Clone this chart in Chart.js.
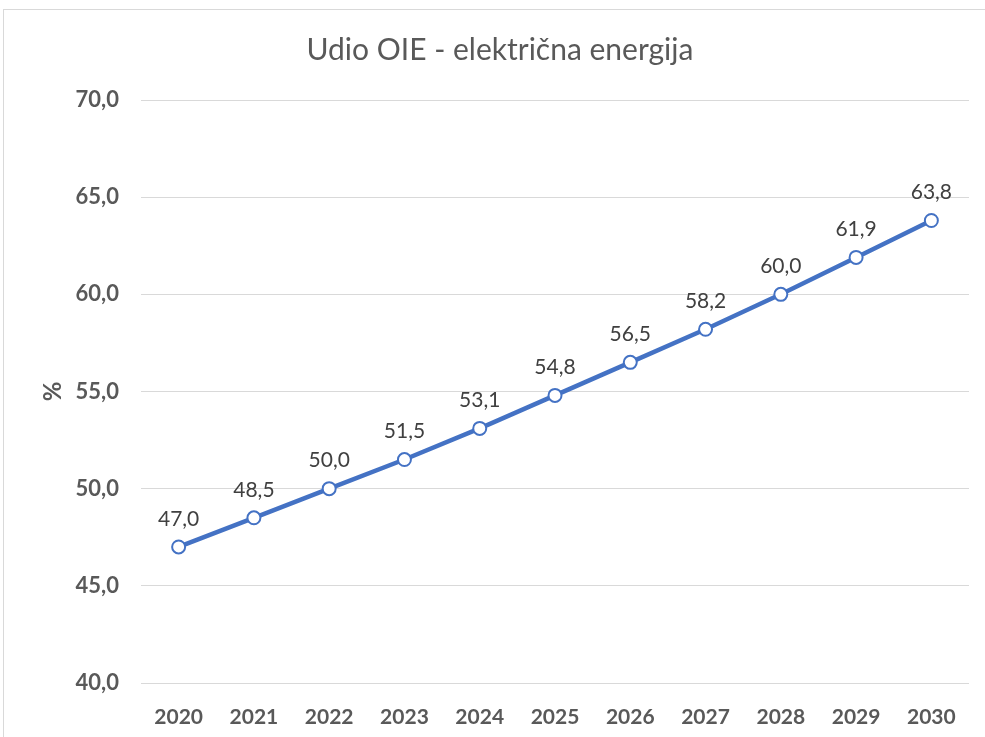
<!DOCTYPE html>
<html>
<head>
<meta charset="utf-8">
<script src="https://cdn.jsdelivr.net/npm/chart.js@4/dist/chart.umd.min.js"></script>
<style>
  html, body { margin: 0; padding: 0; background: #fff; overflow: hidden; }
  #box {
    position: absolute; left: 3px; top: 9px;
    width: 992px; height: 740px;
    border: 1px solid #d9d9d9;
  }
  canvas { display: block; }
</style>
</head>
<body>
<div id="box"><canvas id="oieChart" width="992" height="740"></canvas></div>
<script>
const years = ['2020', '2021', '2022', '2023', '2024', '2025', '2026', '2027', '2028', '2029', '2030'];
const shares = [47.0, 48.5, 50.0, 51.5, 53.1, 54.8, 56.5, 58.2, 60.0, 61.9, 63.8];
const yTicks = [40, 45, 50, 55, 60, 65, 70];

const fmt = v => v.toFixed(1).replace('.', ',');

// labels above each point
const valueLabels = {
    id: 'valueLabels',
    afterDatasetsDraw(chart) {
        const ctx = chart.ctx;
        const meta = chart.getDatasetMeta(0);
        ctx.save();
        ctx.font = '21px Lato';
        ctx.fillStyle = '#404040';
        ctx.textAlign = 'center';
        ctx.textBaseline = 'middle';
        meta.data.forEach((pt, i) => {
            ctx.fillText(fmt(shares[i]), pt.x, pt.y - 28);
        });
        ctx.restore();
    }
};

const ctx = document.getElementById('oieChart').getContext('2d');
new Chart(ctx, {
    type: 'line',
    data: {
        labels: years,
        datasets: [{
            label: 'Udio OIE',
            data: shares,
            borderColor: '#4472C4',
            borderWidth: 4.5,
            pointRadius: 6.5,
            pointHoverRadius: 6.5,
            pointBackgroundColor: '#ffffff',
            pointBorderColor: '#4472C4',
            pointBorderWidth: 2,
            tension: 0
        }]
    },
    options: {
        responsive: false,
        animation: false,
        layout: { padding: { left: 27, right: 27, top: 0, bottom: 0 } },
        plugins: {
            legend: { display: false },
            tooltip: { enabled: false },
            title: {
                display: true,
                text: 'Udio OIE - električna energija',
                color: '#595959',
                font: { family: 'Lato', size: 30, weight: 'normal' },
                padding: { top: 22, bottom: 32 }
            }
        },
        scales: {
            x: {
                offset: true,
                grid: { display: false, drawTicks: false },
                border: { display: false },
                ticks: {
                    color: '#595959',
                    padding: 22,
                    font: { family: 'Lato', size: 21, weight: 'bold' }
                },
                afterFit(scale) { scale.height = 67; }
            },
            y: {
                min: 40,
                max: 70,
                afterBuildTicks(scale) { scale.ticks = yTicks.map(v => ({ value: v })); },
                grid: { color: '#d9d9d9', lineWidth: 1, drawTicks: false },
                border: { display: false },
                ticks: {
                    color: '#595959',
                    padding: 22,
                    font: { family: 'Lato', size: 22, weight: 'bold' },
                    callback: v => fmt(v)
                },
                title: {
                    display: true,
                    text: '%',
                    color: '#595959',
                    font: { family: 'Lato', size: 24, weight: 'bold' },
                    padding: { top: 8, bottom: 0 }
                },
                afterFit(scale) { scale.width = 110; }
            }
        }
    },
    plugins: [valueLabels]
});
</script>
</body>
</html>
